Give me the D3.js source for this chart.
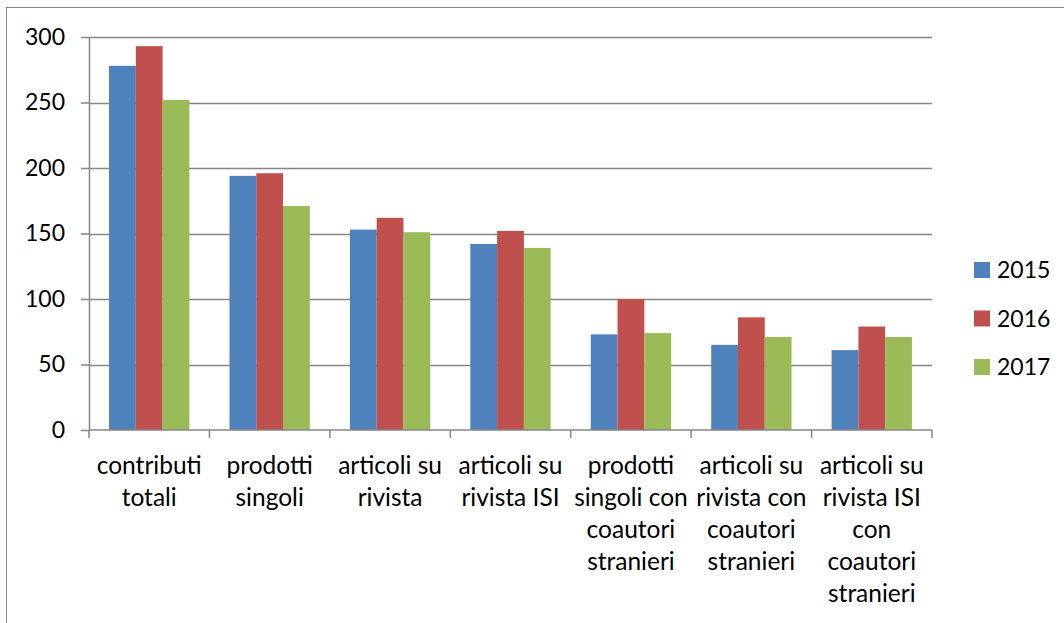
<!DOCTYPE html>
<html>
<head>
<meta charset="utf-8">
<script src="https://cdn.jsdelivr.net/npm/d3@7"></script>
<style>
  body { margin: 0; background: #fff; }
  text { font-family: Lato, "Open Sans", sans-serif; fill: #000; }
</style>
</head>
<body>
<svg id="chart" width="1064" height="623"></svg>
<script>
// categories (line breaks as in the original labels)
const categories = [
  "contributi\ntotali",
  "prodotti\nsingoli",
  "articoli su\nrivista",
  "articoli su\nrivista ISI",
  "prodotti\nsingoli con\ncoautori\nstranieri",
  "articoli su\nrivista con\ncoautori\nstranieri",
  "articoli su\nrivista ISI\ncon\ncoautori\nstranieri"
];
const years = ["2015", "2016", "2017"];
const values2015 = [278, 194, 153, 142, 73, 65, 61];
const values2016 = [293, 196, 162, 152, 100, 86, 79];
const values2017 = [252, 171, 151, 139, 74, 71, 71];
const yTicks = [0, 50, 100, 150, 200, 250, 300];
const colors = ["#4F81BD", "#C0504D", "#9BBB59"];

const series = [values2015, values2016, values2017];

var svg = d3.select("#chart"),
    margin = {top: 37, left: 89, right: 132, bottom: 193},
    width = 1064,
    height = 623;

// outer frame of the chart area
svg.append("rect")
    .attr("x", 6.5).attr("y", 7.5)
    .attr("width", 1100).attr("height", 700)
    .attr("fill", "none")
    .attr("stroke", "#868686")
    .attr("stroke-width", 1);

var x0 = d3.scaleBand()
    .domain(categories.map((d, i) => i))
    .range([margin.left, width - margin.right]);

var x1 = d3.scaleBand()
    .domain(years)
    .range([0, x0.bandwidth()])
    .paddingOuter(20 / 26.7)
    .paddingInner(0);

var y = d3.scaleLinear()
    .domain([0, 300])
    .range([height - margin.bottom, margin.top]);

// gridlines
svg.append("g")
    .selectAll("line")
    .data(yTicks.filter(d => d > 0))
    .enter()
    .append("line")
    .attr("x1", margin.left).attr("x2", width - margin.right)
    .attr("y1", d => Math.round(y(d)) + 0.5)
    .attr("y2", d => Math.round(y(d)) + 0.5)
    .attr("stroke", "#868686")
    .attr("stroke-width", 1.5);

// bars
svg.append("g")
    .selectAll("g")
    .data(series)
    .enter()
    .append("g")
    .attr("fill", (d, i) => colors[i])
    .each(function(vals, si) {
        d3.select(this).selectAll("rect")
            .data(vals)
            .enter()
            .append("rect")
            .attr("x", (d, i) => x0(i) + x1(years[si]))
            .attr("width", x1.bandwidth())
            .attr("y", d => y(d))
            .attr("height", d => y(0) - y(d));
    });

// y axis
var yAxis = svg.append("g")
    .attr("transform", "translate(" + margin.left + ",0)")
    .call(d3.axisLeft(y).tickValues(yTicks).tickSize(8).tickPadding(16).tickSizeOuter(0));
yAxis.selectAll("line, path").attr("stroke", "#868686").attr("stroke-width", 1.5);
yAxis.selectAll("text")
    .style("font-family", "Lato, 'Open Sans', sans-serif")
    .style("font-size", "23px")
    .attr("fill", "#000");

// x axis line and ticks at category boundaries
var xg = svg.append("g");
xg.append("line")
    .attr("x1", margin.left).attr("x2", width - margin.right)
    .attr("y1", y(0)).attr("y2", y(0))
    .attr("stroke", "#868686").attr("stroke-width", 1.5);
xg.selectAll("line.tick")
    .data(d3.range(categories.length + 1))
    .enter()
    .append("line")
    .attr("class", "tick")
    .attr("x1", i => i < categories.length ? x0(i) : x0(i - 1) + x0.bandwidth())
    .attr("x2", i => i < categories.length ? x0(i) : x0(i - 1) + x0.bandwidth())
    .attr("y1", y(0)).attr("y2", y(0) + 8)
    .attr("stroke", "#868686").attr("stroke-width", 1.5);

// category labels
xg.selectAll("text")
    .data(categories)
    .enter()
    .append("text")
    .attr("text-anchor", "middle")
    .style("font-size", "24.5px")
    .each(function(d, i) {
        d3.select(this).selectAll("tspan")
            .data(d.split("\n"))
            .enter()
            .append("tspan")
            .attr("x", x0(i) + x0.bandwidth() / 2)
            .attr("y", (t, j) => 474 + j * 32)
            .text(t => t);
    });

// legend
var legend = svg.append("g")
    .selectAll("g")
    .data(years)
    .enter()
    .append("g")
    .attr("transform", (d, i) => "translate(974," + (262 + i * 48.5) + ")");
legend.append("rect")
    .attr("width", 16).attr("height", 16)
    .attr("fill", (d, i) => colors[i]);
legend.append("text")
    .attr("x", 23).attr("y", 16)
    .style("font-size", "23px")
    .text(d => d);
</script>
</body>
</html>
